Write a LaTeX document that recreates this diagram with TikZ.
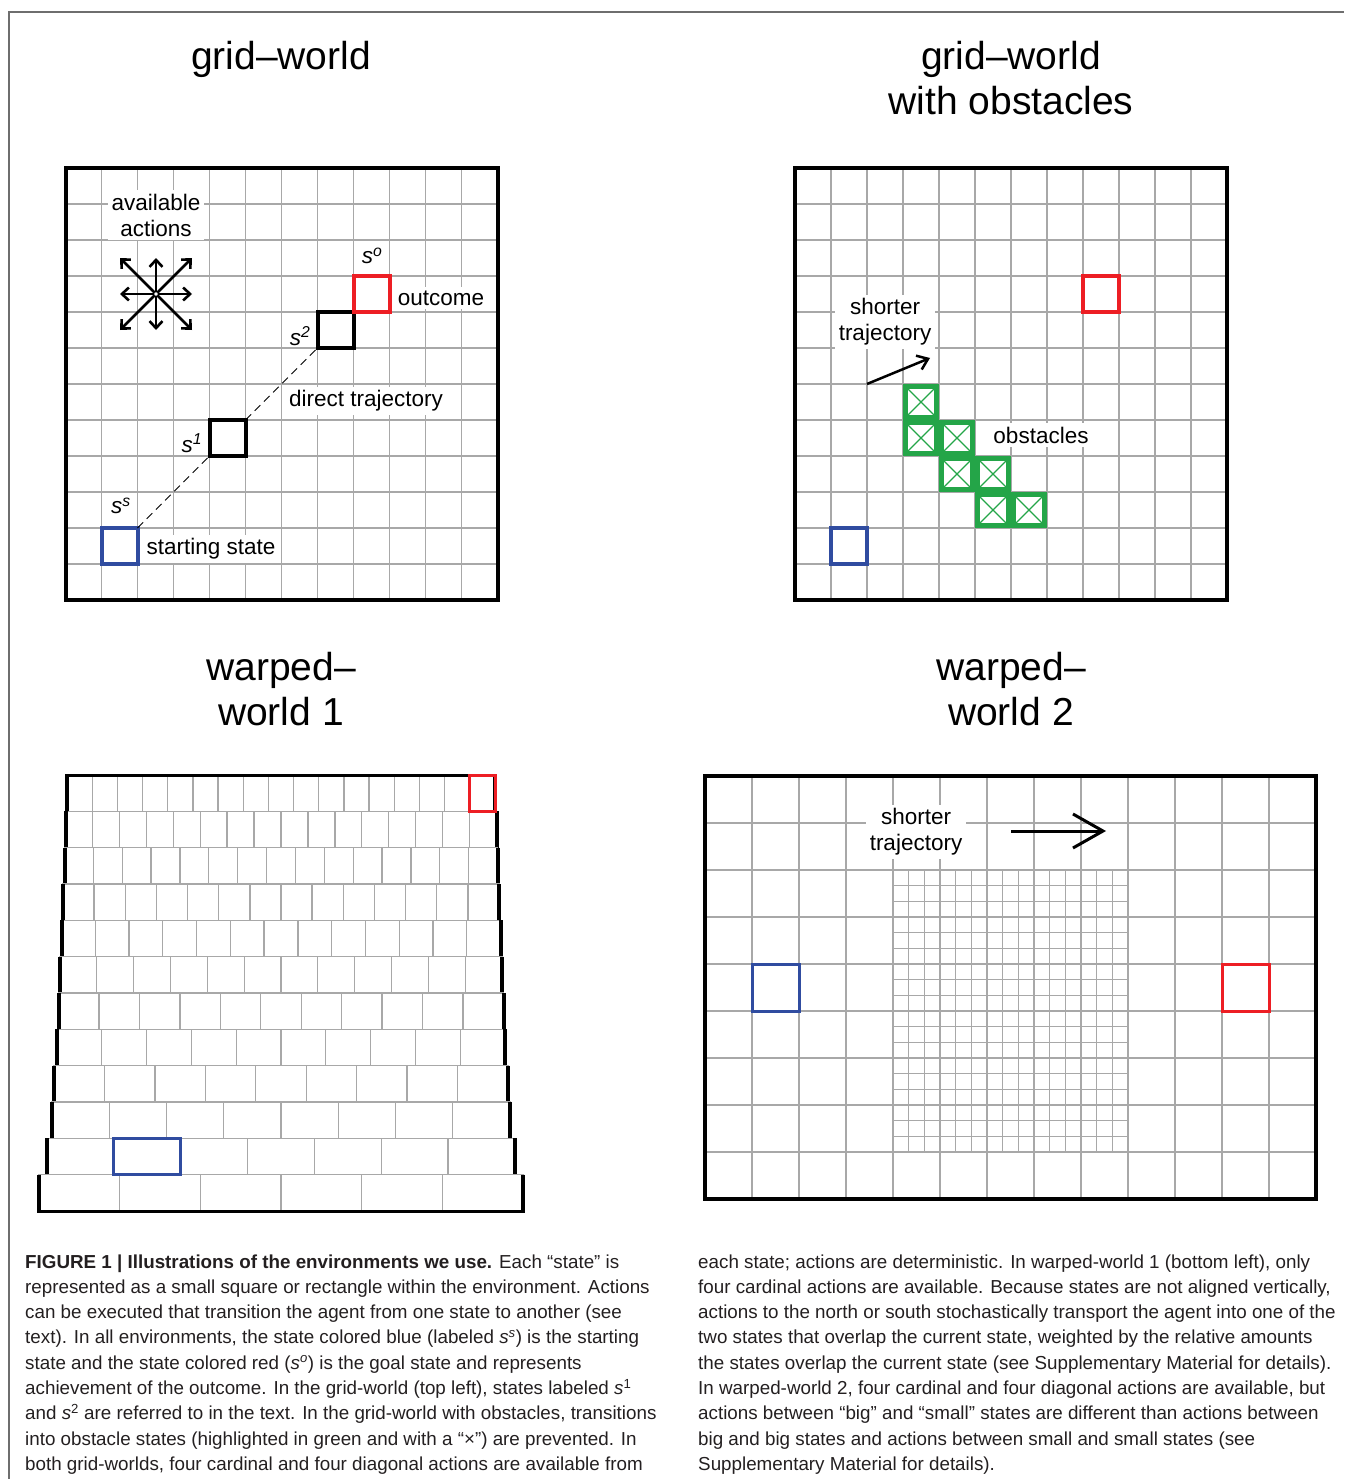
\documentclass[tikz,border=0pt]{standalone}
\usepackage{fontspec}
\setmainfont{Liberation Sans}
\usetikzlibrary{arrows.meta}

\begin{document}
\begin{tikzpicture}[x=1pt,y=-1pt,
  gridline/.style={draw=gridg, line width=1.3pt},
  frameline/.style={draw=black, line width=4pt},
  statebox/.style={draw, line width=4pt, minimum size=36pt, inner sep=0pt, outer sep=0pt},
  bigbox/.style={draw, line width=3pt, minimum size=47pt, inner sep=0pt, outer sep=0pt},
  obstacle/.style={draw=obsg, line width=4.4pt, minimum size=31pt, inner sep=0pt, outer sep=0pt},
  obsx/.style={draw=obsg, line width=1.2pt},
  title/.style={anchor=base, inner sep=0pt, font=\fontsize{39}{45}\selectfont},
  lab/.style={fill=white, inner sep=3.5pt, align=center, font=\fontsize{22.5}{26}\selectfont},
  slab/.style={fill=white, inner sep=1pt, font=\fontsize{22.5}{26}\selectfont\itshape},
  actarrow/.style={line width=2.6pt, -{Straight Barb[length=7pt,width=13pt]}},
  capline/.style={anchor=base west, inner sep=0pt, text=capt, font=\fontsize{18.8}{25.3}\selectfont}]

\definecolor{gridg}{RGB}{168,168,168}
\definecolor{stblue}{RGB}{48,76,160}
\definecolor{stred}{RGB}{237,30,36}
\definecolor{obsg}{RGB}{36,165,72}
\definecolor{capt}{RGB}{35,31,32}
\definecolor{rahmen}{RGB}{110,110,110}

\useasboundingbox (0,0) rectangle (1344,1479);
\draw[draw=rahmen, line width=1.5pt] (9,1479) -- (9,12) -- (1344,12);

% titles
\node[title] (t1) at (281,70) {grid–world};
\node[title] (t2a) at (1011,70) {grid–world};
\node[title] (t2b) at (1011,115) {with obstacles};
\node[title] (t3a) at (281,680) {warped–};
\node[title] (t3b) at (281,725) {world 1};
\node[title] (t4a) at (1011,680) {warped–};
\node[title] (t4b) at (1011,725) {world 2};

% grid-world
\foreach \k in {1,...,11} {
  \draw[gridline] ({65.5+36*\k},168) -- ++(0,432);
  \draw[gridline] (65.5,{168+36*\k}) -- ++(432,0);
}
\draw[frameline] (65.5,168) rectangle (497.5,600);

\node[lab] (avail) at (156,215) {available\\actions};
\coordinate (acc) at (156,294);
\foreach \dx/\dy in {36/0,36/36,0/36,-36/36,-36/0,-36/-36,0/-36,36/-36}
  \draw[actarrow] (acc) -- ++(\dx,\dy);
\node[circle, draw, fill=white, line width=1.2pt, minimum size=5pt, inner sep=0pt] (ac) at (acc) {};

\node[statebox, draw=stblue] (ss) at (119.5,546) {};
\node[statebox] (s1) at (227.5,438) {};
\node[statebox] (s2) at (335.5,330) {};
\node[statebox, draw=stred] (so) at (371.5,294) {};
\draw[dash pattern=on 8pt off 5pt, line width=0.8pt] (ss.north east) -- (s1.south west);
\draw[dash pattern=on 8pt off 5pt, line width=0.8pt] (s1.north east) -- (s2.south west);

\node[slab] (lss) at (121,506) {s\textsuperscript{s}};
\node[slab] (ls1) at (192,443) {s\textsuperscript{1}};
\node[slab] (ls2) at (300,336) {s\textsuperscript{2}};
\node[slab] (lso) at (372,256) {s\textsuperscript{o}};
\node[lab] (outc) at (441,298) {outcome};
\node[lab] (direct) at (366,401) {direct trajectory};
\node[lab] (start) at (211,549) {starting state};

% grid-world with obstacles
\foreach \k in {1,...,11} {
  \draw[gridline] ({795+36*\k},168) -- ++(0,432);
  \draw[gridline] (795,{168+36*\k}) -- ++(432,0);
}
\draw[frameline] (795,168) rectangle (1227,600);

\foreach \c/\r [count=\i] in {3/6,3/7,4/7,4/8,5/8,5/9,6/9} {
  \node[obstacle] (ob\i) at ({795+36*\c+18},{168+36*\r+18}) {};
  \draw[obsx] (ob\i.north west) -- (ob\i.south east) (ob\i.north east) -- (ob\i.south west);
}
\node[statebox, draw=stblue] (ss2) at (849,546) {};
\node[statebox, draw=stred] (so2) at (1101,294) {};
\node[lab] (short1) at (885,322) {shorter\\trajectory};
\coordinate (sh1a) at (867,384);
\coordinate (sh1b) at (930,358);
\draw[line width=2.5pt, -{Straight Barb[length=10pt,width=15pt]}] (sh1a) -- (sh1b);
\node[lab] (obst) at (1041,435) {obstacles};

% warped-world 1
\foreach \w [count=\r from 0] in {428,431,433,436,439,442,445,448,454,458,468,484} {
  \pgfmathtruncatemacro\m{16-\r}
  \pgfmathsetmacro\lx{281-\w/2}
  \pgfmathsetmacro\ty{775+36.33*\r}
  \pgfmathsetmacro\cw{\w/(\m+1)}
  \draw[gridline] (\lx,\ty) rectangle ++(\w,36.33);
  \foreach \k in {1,...,\m}
    \draw[gridline] ({\lx+\k*\cw},\ty) -- ++(0,36.33);
  \draw[frameline] (\lx,\ty) -- ++(0,36.33);
  \draw[frameline] ({\lx+\w},\ty) -- ++(0,36.33);
}
\draw[line width=3pt] (65,775) -- (497,775);
\draw[line width=3pt] (37,1211) -- (525,1211);
\node[draw=stred, line width=3pt, minimum width=25.2pt, minimum height=36.3pt, inner sep=0pt] (wso) at (482.4,793.2) {};
\node[draw=stblue, line width=3pt, minimum width=66.9pt, minimum height=36.3pt, inner sep=0pt] (wss) at (147.3,1156.5) {};

% warped-world 2
\foreach \k in {1,...,14}
  \draw[gridline] ({893+47/3*\k},870) -- ++(0,282);
\foreach \k in {1,...,17}
  \draw[gridline] (893,{870+47/3*\k}) -- ++(235,0);
\foreach \k in {1,...,12}
  \draw[gridline] ({705+47*\k},776) -- ++(0,423);
\foreach \k in {1,...,8}
  \draw[gridline] (705,{776+47*\k}) -- ++(611,0);
\draw[frameline] (705,776) rectangle (1316,1199);
\node[bigbox, draw=stblue] (ss4) at (775.5,987.5) {};
\node[bigbox, draw=stred] (so4) at (1245.5,987.5) {};
\node[lab, inner sep=4pt] (short2) at (916,832) {shorter\\trajectory};
\coordinate (sh2a) at (1011,831);
\coordinate (sh2b) at (1106,831);
\draw[line width=3pt, -{Straight Barb[length=30pt,width=34pt]}] (sh2a) -- (sh2b);

% caption
\node[capline] (c1) at (25,1268) {\textbf{FIGURE 1 | Illustrations of the environments we use.} Each “state” is};
\node[capline] (c2) at (25,1293.3) {represented as a small square or rectangle within the environment. Actions};
\node[capline] (c3) at (25,1318.6) {can be executed that transition the agent from one state to another (see};
\node[capline] (c4) at (25,1343.9) {text). In all environments, the state colored blue (labeled \textit{s}\textsuperscript{\textit{s}}) is the starting};
\node[capline] (c5) at (25,1369.2) {state and the state colored red (\textit{s}\textsuperscript{\textit{o}}) is the goal state and represents};
\node[capline] (c6) at (25,1394.5) {achievement of the outcome. In the grid-world (top left), states labeled \textit{s}\textsuperscript{1}};
\node[capline] (c7) at (25,1419.8) {and \textit{s}\textsuperscript{2} are referred to in the text. In the grid-world with obstacles, transitions};
\node[capline] (c8) at (25,1445.1) {into obstacle states (highlighted in green and with a “×”) are prevented. In};
\node[capline] (c9) at (25,1470.4) {both grid-worlds, four cardinal and four diagonal actions are available from};

\node[capline] (d1) at (698,1268) {each state; actions are deterministic. In warped-world 1 (bottom left), only};
\node[capline] (d2) at (698,1293.3) {four cardinal actions are available. Because states are not aligned vertically,};
\node[capline] (d3) at (698,1318.6) {actions to the north or south stochastically transport the agent into one of the};
\node[capline] (d4) at (698,1343.9) {two states that overlap the current state, weighted by the relative amounts};
\node[capline] (d5) at (698,1369.2) {the states overlap the current state (see Supplementary Material for details).};
\node[capline] (d6) at (698,1394.5) {In warped-world 2, four cardinal and four diagonal actions are available, but};
\node[capline] (d7) at (698,1419.8) {actions between “big” and “small” states are different than actions between};
\node[capline] (d8) at (698,1445.1) {big and big states and actions between small and small states (see};
\node[capline] (d9) at (698,1470.4) {Supplementary Material for details).};
\end{tikzpicture}
\end{document}
